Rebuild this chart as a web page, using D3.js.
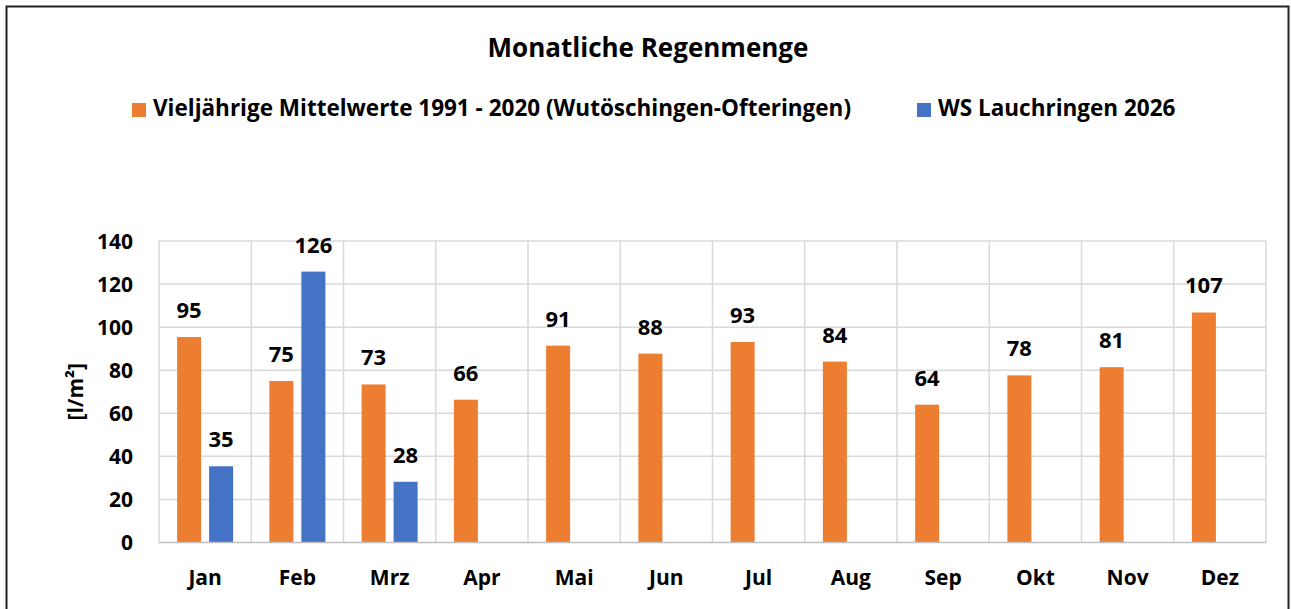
<!DOCTYPE html>
<html>
<head>
<meta charset="utf-8">
<script src="https://cdn.jsdelivr.net/npm/d3@7"></script>
<style>
  body { margin: 0; background: #fff; }
  text { font-family: "Open Sans", Lato, sans-serif; font-weight: bold; fill: #000; }
</style>
</head>
<body>
<script>
// data
var months = ["Jan", "Feb", "Mrz", "Apr", "Mai", "Jun", "Jul", "Aug", "Sep", "Okt", "Nov", "Dez"];
var mittelwerte = [95.4, 75, 73.4, 66.3, 91.4, 87.7, 93.1, 84, 64, 77.6, 81.4, 106.8];
var lauchringen = [35.4, 125.8, 28.2, null, null, null, null, null, null, null, null, null];
var yTicks = [0, 20, 40, 60, 80, 100, 120, 140];
var seriesNames = ["Vieljährige Mittelwerte 1991 - 2020 (Wutöschingen-Ofteringen)", "WS Lauchringen 2026"];
var seriesColors = ["#ed7d31", "#4472c4"];

var W = 1291, H = 609;
var plot = {left: 159, right: 1266, top: 241, bottom: 542.5};
var fs = "21px";

var svg = d3.select("body").append("svg")
  .attr("width", W)
  .attr("height", H);

// outer frame
svg.append("rect")
  .attr("x", 6.5).attr("y", 6.5)
  .attr("width", 1282).attr("height", 620)
  .attr("fill", "#fff")
  .attr("stroke", "#222")
  .attr("stroke-width", 2);

var x = d3.scaleBand().domain(months).range([plot.left, plot.right]);
var y = d3.scaleLinear().domain([0, 140]).range([plot.bottom, plot.top]);

var barW = 24, gap = 8;
var offs = [(x.bandwidth() - 2 * barW - gap) / 2, (x.bandwidth() - 2 * barW - gap) / 2 + barW + gap];

// grid
var grid = svg.append("g");
grid.selectAll("line.h").data(yTicks.slice(1)).enter().append("line")
  .attr("x1", plot.left).attr("x2", plot.right)
  .attr("y1", d => y(d)).attr("y2", d => y(d))
  .attr("stroke", "#d9d9d9").attr("stroke-width", 1.5);
grid.selectAll("line.v").data(months.concat(["end"])).enter().append("line")
  .attr("x1", (d, i) => plot.left + i * x.step()).attr("x2", (d, i) => plot.left + i * x.step())
  .attr("y1", plot.top).attr("y2", plot.bottom)
  .attr("stroke", "#d9d9d9").attr("stroke-width", 1.5);

// bars
var series = [mittelwerte, lauchringen];
series.forEach(function (vals, s) {
  var data = months.map((m, i) => ({m: m, v: vals[i]})).filter(d => d.v != null);
  var g = svg.append("g");
  g.selectAll("rect").data(data).enter().append("rect")
    .attr("x", d => x(d.m) + offs[s])
    .attr("y", d => y(d.v))
    .attr("width", barW)
    .attr("height", d => y(0) - y(d.v))
    .attr("fill", seriesColors[s]);
  g.selectAll("text").data(data).enter().append("text")
    .attr("x", d => x(d.m) + offs[s] + barW / 2)
    .attr("y", d => y(d.v) - 19)
    .attr("text-anchor", "middle")
    .style("font-size", "22px")
    .text(d => d3.format(".0f")(d.v));
});

// x axis baseline
svg.append("line")
  .attr("x1", plot.left).attr("x2", plot.right)
  .attr("y1", y(0)).attr("y2", y(0))
  .attr("stroke", "#bfbfbf").attr("stroke-width", 1.5);

// axes (labels only)
var xAxis = svg.append("g")
  .attr("transform", "translate(0," + y(0) + ")")
  .call(d3.axisBottom(x).tickSize(0).tickPadding(0));
xAxis.select(".domain").remove();
xAxis.selectAll("text").style("font-size", fs).attr("y", 42).attr("dy", 0);

var yAxis = svg.append("g")
  .attr("transform", "translate(" + plot.left + ",0)")
  .call(d3.axisLeft(y).tickValues(yTicks).tickSize(0).tickPadding(26));
yAxis.select(".domain").remove();
yAxis.selectAll("text").style("font-size", fs).attr("dy", "0.35em");

// y title
svg.append("text")
  .attr("transform", "translate(83," + ((plot.top + plot.bottom) / 2) + ") rotate(-90)")
  .attr("text-anchor", "middle")
  .style("font-size", fs)
  .text("[l/m²]");

// title
svg.append("text")
  .attr("x", 648).attr("y", 57)
  .attr("text-anchor", "middle")
  .style("font-size", "26px")
  .text("Monatliche Regenmenge");

// legend
var legendX = [132, 917];
var lg = svg.append("g");
seriesNames.forEach(function (name, s) {
  lg.append("rect")
    .attr("x", legendX[s]).attr("y", 103)
    .attr("width", 14).attr("height", 14)
    .attr("fill", seriesColors[s]);
  lg.append("text")
    .attr("x", legendX[s] + 21).attr("y", 116)
    .style("font-size", "22.5px")
    .text(name);
});
</script>
</body>
</html>
